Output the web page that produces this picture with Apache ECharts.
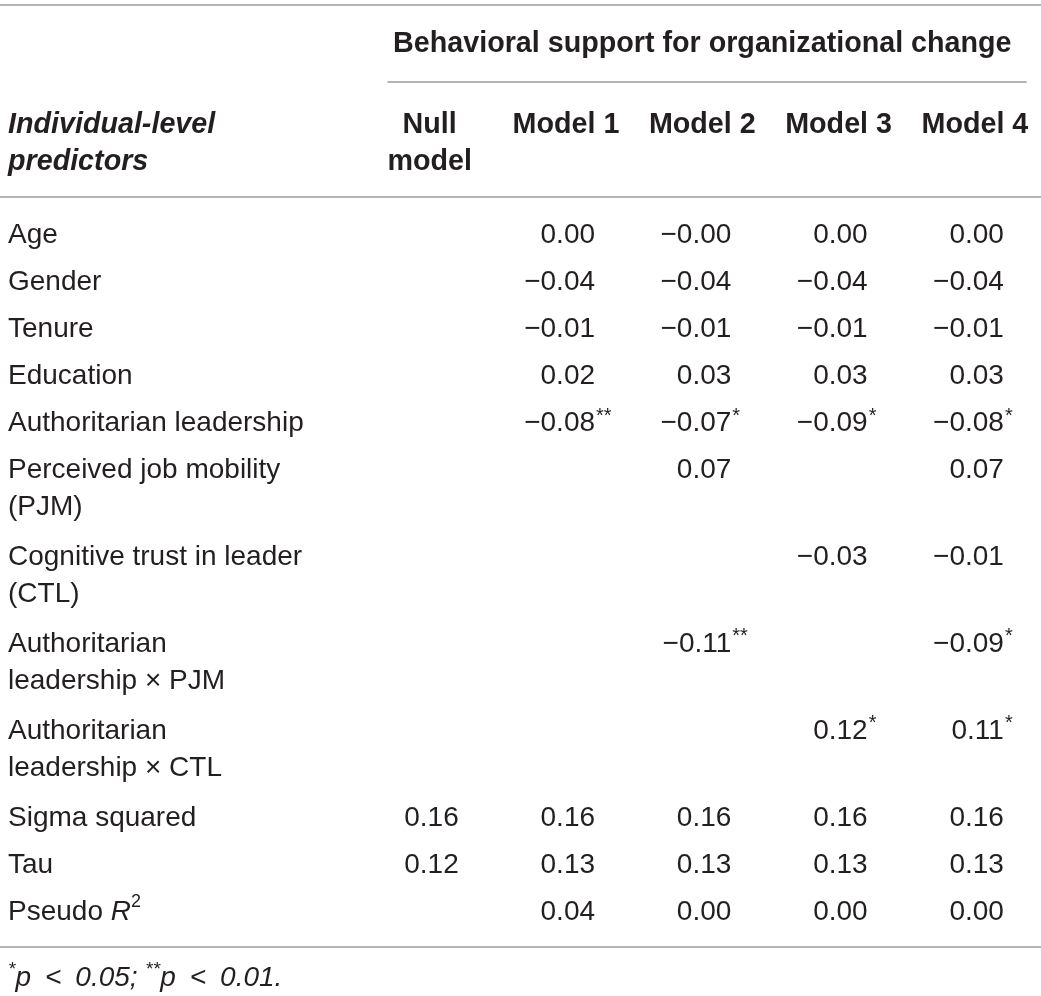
<!DOCTYPE html>
<html>
<head>
<meta charset="utf-8">
<script src="https://cdn.jsdelivr.net/npm/echarts@6/dist/echarts.min.js"></script>
<style>
  html, body { margin: 0; padding: 0; background: #fff; }
  #main { width: 1041px; height: 996px; }
</style>
</head>
<body>
<div id="main"></div>
<script>
// table content
var title = 'Behavioral support for organizational change';
var stubHead = 'Individual-level\npredictors';
var models = ['Null\nmodel', 'Model 1', 'Model 2', 'Model 3', 'Model 4'];
var predictors = ['Age', 'Gender', 'Tenure', 'Education', 'Authoritarian leadership',
  'Perceived job mobility\n(PJM)', 'Cognitive trust in leader\n(CTL)',
  'Authoritarian\nleadership \u00d7 PJM', 'Authoritarian\nleadership \u00d7 CTL',
  'Sigma squared', 'Tau', 'Pseudo R2'];

var nullModel = [null, null, null, null, null, null, null, null, null, 0.16, 0.12, null];
var model1 = [0.00, -0.04, -0.01, 0.02, -0.08, null, null, null, null, 0.16, 0.13, 0.04];
var model2 = [-0.00, -0.04, -0.01, 0.03, -0.07, 0.07, null, -0.11, null, 0.16, 0.13, 0.00];
var model3 = [0.00, -0.04, -0.01, 0.03, -0.09, null, -0.03, null, 0.12, 0.16, 0.13, 0.00];
var model4 = [0.00, -0.04, -0.01, 0.03, -0.08, 0.07, -0.01, -0.09, 0.11, 0.16, 0.13, 0.00];

var starsNull = ['', '', '', '', '', '', '', '', '', '', '', ''];
var stars1 = ['', '', '', '', '**', '', '', '', '', '', '', ''];
var stars2 = ['', '', '', '', '*', '', '', '**', '', '', '', ''];
var stars3 = ['', '', '', '', '*', '', '', '', '*', '', '', ''];
var stars4 = ['', '', '', '', '*', '', '', '*', '*', '', '', ''];

var footnote = '{s|*}{i|p\u2002<\u20020.05; }{s|**}{i|p\u2002<\u20020.01.}';

var values = [nullModel, model1, model2, model3, model4];
var stars = [starsNull, stars1, stars2, stars3, stars4];

// layout (pixels)
var ROW_PX = 47, FIRST_ROW_PX = 233, LINE_PX = 37;
var COL_PX = 136.3, FIRST_COL_PX = 429.7;
var EXTRA_LINE = 0.85;     // extra row units per wrapped line
var NUM_SHIFT = 0.213;     // decimal anchor right of column centre (band units)
var TEXT_DY = 2;
var FONT = "'Helvetica Neue', 'Liberation Sans', Arial, sans-serif";
var INK = '#231f20';
var RULE = '#9b9b9b';
var BOLD_SIZE = 28.7;

// row positions from line counts
var rowY = [];
var acc = 0;
predictors.forEach(function (p) {
  rowY.push(acc);
  acc += 1 + EXTRA_LINE * (p.split('\n').length - 1);
});

var titleY = -4.06, headY = -2.34, footY = 15.82;
var labelX = -3.094;

function fmt(v) {
  var neg = v < 0 || Object.is(v, -0);
  return (neg ? '\u2212' : '') + Math.abs(v).toFixed(2);
}

var cellData = [];
values.forEach(function (arr, m) {
  arr.forEach(function (v, r) {
    if (v !== null) cellData.push([m, rowY[r], m, r]);
  });
});

var labelData = predictors.map(function (p, r) { return [labelX, rowY[r], r]; });
var headData = models.map(function (h, m) { return [m, headY, m]; });

function textEl(x, y, text, opt) {
  return {
    type: 'text',
    x: x, y: y,
    style: Object.assign({
      text: text,
      fill: INK,
      fontFamily: FONT,
      fontSize: 28,
      lineHeight: LINE_PX,
      align: 'left',
      verticalAlign: 'top'
    }, opt || {})
  };
}

function lineTop(p) { return p[1] - LINE_PX / 2 + TEXT_DY; }

function renderLabel(params, api) {
  var p = api.coord([api.value(0), api.value(1)]);
  var r = api.value(2);
  var txt = predictors[r];
  var opt = {};
  if (txt === 'Pseudo R2') {
    txt = 'Pseudo {i|R}{s|2}';
    opt.rich = {
      i: { fontStyle: 'italic', fontSize: 28, fontFamily: FONT, fill: INK, lineHeight: LINE_PX },
      s: { fontSize: 18, fontFamily: FONT, fill: INK, verticalAlign: 'top', lineHeight: 20 }
    };
  }
  return textEl(p[0], lineTop(p), txt, opt);
}

function renderCell(params, api) {
  var p = api.coord([api.value(0), api.value(1)]);
  var bw = api.size([1, 0])[0];
  var m = api.value(2), r = api.value(3);
  var ax = p[0] + bw * NUM_SHIFT;
  var children = [textEl(ax, lineTop(p), fmt(values[m][r]), { align: 'right' })];
  if (stars[m][r]) {
    children.push(textEl(ax + 1, p[1] - 5, stars[m][r], { fontSize: 20, lineHeight: 20, verticalAlign: 'middle' }));
  }
  return { type: 'group', children: children };
}

function renderHead(params, api) {
  var p = api.coord([api.value(0), api.value(1)]);
  return textEl(p[0], lineTop(p), models[api.value(2)], { align: 'center', fontWeight: 'bold', fontSize: BOLD_SIZE });
}

function renderOther(params, api) {
  var p = api.coord([api.value(0), api.value(1)]);
  var kind = api.value(2);
  if (kind === 0) {
    return textEl(p[0], lineTop(p), title, { align: 'center', fontWeight: 'bold', fontSize: BOLD_SIZE });
  }
  if (kind === 1) {
    return textEl(p[0], lineTop(p), stubHead, { fontWeight: 'bold', fontStyle: 'italic', fontSize: BOLD_SIZE });
  }
  return textEl(p[0], lineTop(p), footnote, {
    rich: {
      i: { fontStyle: 'italic', fontSize: 28, fontFamily: FONT, fill: INK, lineHeight: LINE_PX },
      s: { fontStyle: 'italic', fontSize: 19, fontFamily: FONT, fill: INK, verticalAlign: 'top', lineHeight: 22 }
    }
  });
}

var ruleLine = { color: RULE, width: 1.5, type: 'solid' };

var myChart = echarts.init(document.getElementById('main'));
var option = {
  animation: false,
  backgroundColor: '#ffffff',
  grid: { left: 0, right: 0, top: 0, bottom: 0 },
  xAxis: {
    type: 'value', show: false,
    min: -FIRST_COL_PX / COL_PX,
    max: (1041 - FIRST_COL_PX) / COL_PX
  },
  yAxis: {
    type: 'value', show: false, inverse: true,
    min: -FIRST_ROW_PX / ROW_PX,
    max: (996 - FIRST_ROW_PX) / ROW_PX
  },
  series: [
    {
      type: 'custom', name: 'labels', clip: false, silent: true,
      data: labelData, encode: { x: 0, y: 1 }, renderItem: renderLabel,
      markLine: {
        silent: true, symbol: 'none', label: { show: false },
        lineStyle: ruleLine,
        data: [
          { yAxis: -4.85 },
          [{ coord: [-0.31, -3.21] }, { coord: [4.38, -3.21] }],
          { yAxis: -0.77 },
          { yAxis: 15.19 }
        ]
      }
    },
    {
      type: 'custom', name: 'cells', clip: false, silent: true,
      data: cellData, encode: { x: 0, y: 1 }, renderItem: renderCell
    },
    {
      type: 'custom', name: 'heads', clip: false, silent: true,
      data: headData, encode: { x: 0, y: 1 }, renderItem: renderHead
    },
    {
      type: 'custom', name: 'other', clip: false, silent: true,
      data: [[2, titleY, 0], [labelX, headY, 1], [labelX, footY, 2]],
      encode: { x: 0, y: 1 }, renderItem: renderOther
    }
  ]
};
myChart.setOption(option);
</script>
</body>
</html>
